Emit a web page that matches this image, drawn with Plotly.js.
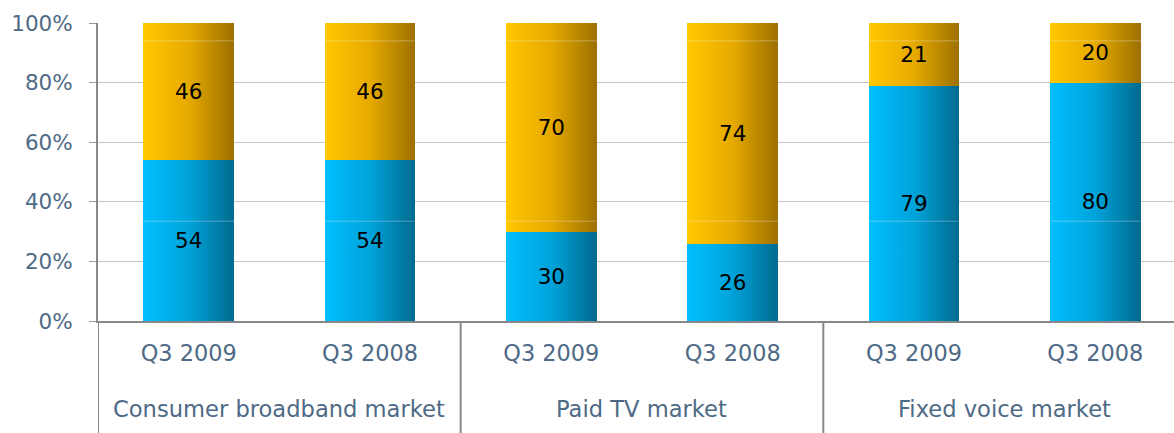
<!DOCTYPE html>
<html>
<head>
<meta charset="utf-8">
<script src="https://cdn.plot.ly/plotly-3.0.1.min.js"></script>
<style>
html,body{margin:0;padding:0;background:#fff;overflow:hidden;}
#chart{width:1174px;height:433px;}
</style>
</head>
<body>
<div id="chart"></div>
<script>
const groups = ["Consumer broadband market","Consumer broadband market","Paid TV market","Paid TV market","Fixed voice market","Fixed voice market"];
const periods = ["Q3 2009","Q3 2008","Q3 2009","Q3 2008","Q3 2009","Q3 2008"];
const seriesBlue = [54, 54, 30, 26, 79, 80];
const seriesGold = [46, 46, 70, 74, 21, 20];
const yTicks = [0, 20, 40, 60, 80, 100];

const textColor = "#4E6A86";
const fontFam = "DejaVu Sans, Verdana, sans-serif";
const idx = periods.map((_, i) => i);

const traces = [
  {type:"bar", name:"a", x:idx, y:seriesBlue, text:seriesBlue.map(String),
   marker:{color:"#00A0D4", line:{width:0}}, width:0.5},
  {type:"bar", name:"b", x:idx, y:seriesGold, text:seriesGold.map(String),
   marker:{color:"#D9A600", line:{width:0}}, width:0.5}
];
traces.forEach(t=>{
  t.textposition="inside"; t.insidetextanchor="middle"; t.constraintext="none";
  t.textfont={family:fontFam, size:21.5, color:"#000"}; t.hoverinfo="none";
});

// group label annotations and divider shapes derived from the groups array
const uniq = [...new Set(groups)];
const annotations = uniq.map(g=>{
  const ids = idx.filter(i=>groups[i]===g);
  const c = (Math.min(...ids)+Math.max(...ids))/2;
  return {x:c, xref:"x", y:-0.296, yref:"paper", text:g, showarrow:false,
          xanchor:"center", yanchor:"middle", font:{family:fontFam, size:22.6, color:textColor}};
});
const bounds = [-0.5];
uniq.forEach(g=>{ const ids = idx.filter(i=>groups[i]===g); bounds.push(Math.max(...ids)+0.5); });
const shapes = bounds.map(b=>({type:"line", xref:"x", x0:b, x1:b, yref:"paper", y0:0, y1:-0.38,
  line:{color:"#888", width:2}, layer:"above"}));
shapes.push(
  {type:"line", xref:"paper", x0:0, x1:1, yref:"y", y0:33.5, y1:33.5, line:{color:"rgba(255,255,255,0.3)", width:1}, layer:"above"},
  {type:"line", xref:"paper", x0:0, x1:1, yref:"y", y0:94, y1:94, line:{color:"rgba(255,255,255,0.3)", width:1}, layer:"above"}
);

const layout = {
  width:1174, height:433,
  margin:{l:98, r:0, t:23, b:112, pad:0},
  barmode:"stack",
  showlegend:false,
  paper_bgcolor:"#fff", plot_bgcolor:"#fff",
  font:{family:fontFam, color:textColor, size:21},
  xaxis:{
    type:"linear",
    range:[-0.5, 5.434],
    tickvals:idx, ticktext:periods,
    showline:true, linecolor:"#888", linewidth:2,
    showgrid:false, zeroline:false, ticks:"",
    ticklabelstandoff:11,
    tickfont:{family:fontFam, size:22.4, color:textColor}
  },
  yaxis:{
    range:[0,100], tickvals:yTicks, ticktext:yTicks.map(v=>v+"%"),
    showline:true, linecolor:"#888", linewidth:2,
    showgrid:true, gridcolor:"#C4C4C4", gridwidth:1,
    ticks:"outside", ticklen:7, tickcolor:"#999", tickwidth:1,
    zeroline:false,
    ticklabelstandoff:12,
    tickfont:{family:fontFam, size:21.5, color:textColor}
  },
  annotations:annotations,
  shapes:shapes
};

Plotly.newPlot("chart", traces, layout, {staticPlot:true}).then(gd=>{
  const svg = gd.querySelector(".main-svg");
  const ns = "http://www.w3.org/2000/svg";
  let defs = svg.querySelector("defs");
  if(!defs){defs = document.createElementNS(ns,"defs"); svg.insertBefore(defs, svg.firstChild);}
  function grad(id, c1, c2, c3){
    const g = document.createElementNS(ns,"linearGradient");
    g.setAttribute("id", id); g.setAttribute("x1","0"); g.setAttribute("x2","1"); g.setAttribute("y1","0"); g.setAttribute("y2","0");
    [[0,c1],[0.5,c2],[1,c3]].forEach(([o,c])=>{
      const s = document.createElementNS(ns,"stop");
      s.setAttribute("offset", o); s.setAttribute("stop-color", c); g.appendChild(s);
    });
    defs.appendChild(g);
  }
  grad("gBlue", "#00BFFF", "#00A3DA", "#006A8E");
  grad("gGold", "#FFC800", "#E6AA00", "#9C7000");
  const tr = gd.querySelectorAll(".barlayer .trace");
  tr.forEach((t,i)=>{
    t.querySelectorAll(".point path").forEach(p=>{ p.style.fill = i===0 ? "url(#gBlue)" : "url(#gGold)"; });
  });
});
</script>
</body>
</html>
